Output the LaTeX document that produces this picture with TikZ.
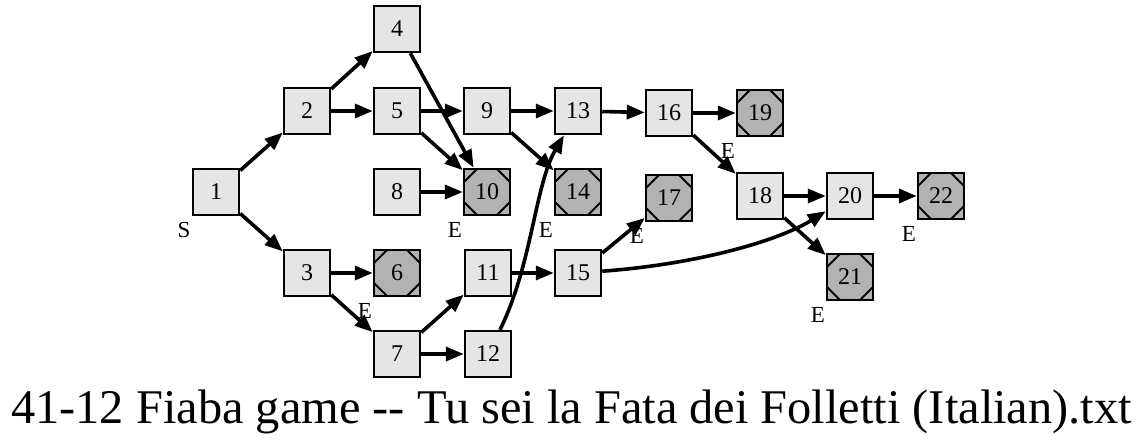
\documentclass[tikz,border=0pt]{standalone}
\usepackage{fontspec}
\setmainfont{Liberation Serif}
\usetikzlibrary{arrows.meta}
\newcommand{\taglio}{13pt}
\tikzset{
  nodo/.style={draw, line width=2.5pt, fill=black!10, minimum size=46pt, inner sep=0pt, font=\fontsize{24}{26}\selectfont},
  fine/.style={nodo, fill=black!30, label={[etich]center:E}, path picture={
    \draw[line width=1.8pt] ([yshift=-\taglio]path picture bounding box.north west) -- ([xshift=\taglio]path picture bounding box.north west);
    \draw[line width=1.8pt] ([yshift=-\taglio]path picture bounding box.north east) -- ([xshift=-\taglio]path picture bounding box.north east);
    \draw[line width=1.8pt] ([yshift=\taglio]path picture bounding box.south west) -- ([xshift=\taglio]path picture bounding box.south west);
    \draw[line width=1.8pt] ([yshift=\taglio]path picture bounding box.south east) -- ([xshift=-\taglio]path picture bounding box.south east);
  }},
  etich/.style={font=\fontsize{23}{25}\selectfont, shift={(-32pt,-38pt)}},
  freccia/.style={line width=3.6pt, -{Triangle[length=18pt,width=14pt]}}
}
\begin{document}
\begin{tikzpicture}[x=1pt, y=-1pt]
    % Cornice
    \useasboundingbox (0,0) rectangle (1143,443);
    % Nodi
    \node[nodo, label={[etich]center:S}] (n1) at (216,192) {1};
    \node[nodo] (n2) at (307,111) {2};
    \node[nodo] (n3) at (307,273) {3};
    \node[nodo] (n4) at (397,29) {4};
    \node[nodo] (n5) at (397,111) {5};
    \node[fine] (n6) at (397,273) {6};
    \node[nodo] (n7) at (397,354) {7};
    \node[nodo] (n8) at (397,192) {8};
    \node[nodo] (n9) at (487,111) {9};
    \node[fine] (n10) at (487,192) {10};
    \node[nodo] (n11) at (488,273) {11};
    \node[nodo] (n12) at (488,354) {12};
    \node[nodo] (n13) at (578,111) {13};
    \node[fine] (n14) at (578,192) {14};
    \node[nodo] (n15) at (578,273) {15};
    \node[nodo] (n16) at (669,113) {16};
    \node[fine] (n17) at (669,198) {17};
    \node[nodo] (n18) at (760,196) {18};
    \node[fine] (n19) at (760,113) {19};
    \node[nodo] (n20) at (850,196) {20};
    \node[fine] (n21) at (850,277) {21};
    \node[fine] (n22) at (941,196) {22};
    % Archi dritti
    \foreach \a/\b in {1/2, 1/3, 2/4, 2/5, 4/10, 5/9, 5/10, 8/10, 9/13, 9/14, 13/16, 16/19, 16/18, 18/20, 18/21, 20/22, 3/6, 3/7, 7/11, 7/12, 11/15, 15/17}
        \draw[freccia] (n\a) -- (n\b);
    % Archi curvi
    \draw[freccia] (n12) .. controls (532,265) and (535,185) .. (n13);
    \draw[freccia] (n15) .. controls (700,264) and (780,240) .. (n20);
    % Titolo
    \node[font=\fontsize{48.4}{52}\selectfont, anchor=base] (titolo) at (571.5,423) {41-12 Fiaba game -{}- Tu sei la Fata dei Folletti (Italian).txt};
\end{tikzpicture}
\end{document}
